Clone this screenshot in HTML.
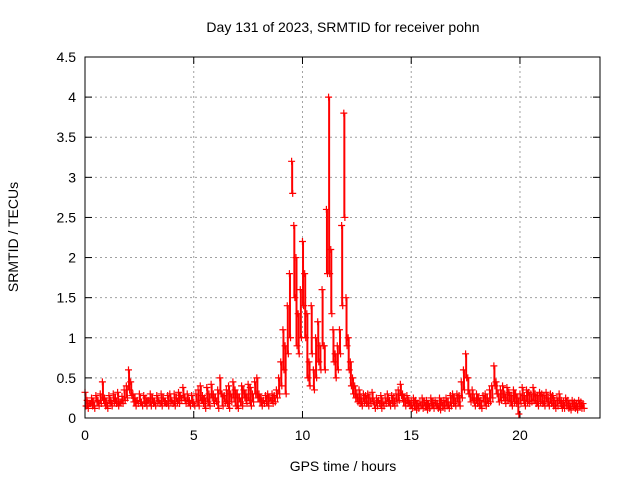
<!DOCTYPE html>
<html><head><meta charset="utf-8"><style>
body{margin:0;background:#fff;width:640px;height:480px;overflow:hidden}
svg text{font-family:"Liberation Sans",sans-serif;font-size:14px;fill:#000}
</style></head><body>
<svg id="chart" width="640" height="480" xmlns="http://www.w3.org/2000/svg">
<rect width="640" height="480" fill="#fff"/>
<text x="343" y="32" text-anchor="middle">Day 131 of 2023, SRMTID for receiver pohn</text>
<text x="343" y="471" text-anchor="middle">GPS time / hours</text>
<text transform="translate(18,237) rotate(-90)" text-anchor="middle">SRMTID / TECUs</text>
<g id="grid"></g>
<g id="marks"></g>
<rect x="85" y="57" width="515" height="361" fill="none" stroke="#000" stroke-width="1"/>
</svg>
<script>
const xTicks=[0,5,10,15,20];
const yTicks=[0,0.5,1,1.5,2,2.5,3,3.5,4,4.5];
const yTickLabels=["0","0.5","1","1.5","2","2.5","3","3.5","4","4.5"];
const startHour=0, stepHour=0.1;
const srmtidA=[.32,.22,.18,.25,.2,.28,.22,.3,.45,.25,
.2,.28,.22,.3,.25,.32,.2,.27,.35,.4,
.6,.45,.3,.25,.22,.3,.2,.28,.25,.22,
.3,.25,.2,.28,.22,.3,.25,.2,.28,.3,
.22,.3,.25,.32,.28,.38,.25,.3,.22,.28,
.2,.3,.35,.4,.28,.25,.38,.3,.42,.3,
.25,.35,.5,.3,.28,.35,.4,.3,.45,.35,
.3,.25,.4,.35,.3,.42,.38,.3,.45,.5,
.3,.25,.22,.28,.3,.25,.3,.28,.35,.5,
.7,1.1,.9,1.4,1.8,3.2,2.4,2.0,1.3,1.6,
2.2,1.8,1.3,.7,1.4,.6,1.0,1.2,.9,1.6,
.9,2.6,4.0,2.1,1.1,.8,.9,1.1,2.4,3.8,
1.5,1.0,.7,.5,.4,.3,.35,.25,.3,.28,
.3,.25,.32,.2,.25,.22,.28,.2,.25,.3,
.22,.28,.25,.3,.35,.42,.3,.25,.28,.22,
.2,.25,.22,.18,.2,.25,.2,.22,.18,.25,
.2,.22,.18,.25,.2,.22,.25,.2,.28,.3,
.25,.3,.28,.45,.6,.8,.5,.3,.35,.25,
.3,.25,.22,.28,.3,.25,.35,.4,.65,.45,
.3,.35,.4,.3,.38,.32,.28,.35,.3,.25,
.3,.38,.28,.35,.32,.3,.38,.3,.28,.32,
.3,.28,.32,.25,.3,.28,.22,.25,.3,.22,
.2,.25,.22,.18,.22,.2,.18,.22,.2,.18];
const srmtidB=[.15,.12,.18,.15,.12,.2,.15,.18,.22,.15,
.12,.18,.15,.2,.18,.15,.2,.18,.22,.25,
.35,.28,.2,.15,.18,.2,.15,.18,.15,.2,
.15,.18,.15,.2,.18,.15,.2,.18,.15,.2,
.18,.15,.2,.18,.22,.25,.18,.2,.15,.18,
.15,.2,.15,.22,.18,.12,.2,.15,.25,.18,
.2,.12,.3,.15,.2,.18,.12,.2,.25,.15,
.12,.2,.15,.25,.18,.22,.15,.2,.3,.25,
.2,.15,.18,.2,.15,.22,.18,.2,.25,.3,
.4,.6,.3,.8,1.0,2.8,1.5,.9,.8,1.0,
1.4,1.0,.5,.4,.8,.35,.5,.7,.6,.9,
.6,1.8,1.8,1.3,.7,.5,.6,.8,1.4,2.5,
.9,.6,.4,.3,.25,.2,.18,.15,.2,.18,
.15,.18,.2,.12,.15,.18,.12,.15,.18,.2,
.15,.18,.15,.2,.22,.28,.2,.15,.18,.15,
.12,.15,.1,.12,.15,.12,.15,.1,.12,.15,
.12,.15,.12,.1,.15,.12,.15,.12,.15,.18,
.15,.2,.15,.25,.35,.5,.3,.2,.22,.15,
.18,.15,.12,.2,.15,.18,.2,.25,.4,.3,
.2,.22,.25,.18,.22,.2,.15,.2,.18,.05,
.18,.22,.15,.2,.18,.2,.22,.18,.15,.2,
.18,.15,.2,.15,.18,.15,.12,.15,.18,.12,
.12,.15,.12,.1,.14,.12,.1,.14,.12,.12];
const NS='http://www.w3.org/2000/svg';
const X0=85,X1=600,Y0=418,Y1=57;
function xs(h){return X0+(h-0)/(23.68-0)*(X1-X0);}
function ys(v){return Y0-(v-0)/(4.5-0)*(Y0-Y1);}
function mk(tag,a,parent){const e=document.createElementNS(NS,tag);for(const k in a)e.setAttribute(k,a[k]);parent.appendChild(e);return e;}
const grid=document.getElementById('grid'),marks=document.getElementById('marks'),svg=document.getElementById('chart');
yTicks.forEach((v,i)=>{const y=ys(v);
 if(i>0&&i<yTicks.length-1){const g=mk('line',{x1:X0,x2:X1,y1:y,y2:y,stroke:'#a0a0a0','stroke-dasharray':'2,3'},grid);
 }
 const t1=mk('line',{x1:X0,x2:X0+7,y1:y,y2:y,stroke:'#000'},grid);
 const t2=mk('line',{x1:X1-7,x2:X1,y1:y,y2:y,stroke:'#000'},grid);
 const l=mk('text',{x:X0-9,y:y+5,'text-anchor':'end'},svg);l.textContent=yTickLabels[i];
 });
xTicks.forEach((h,i)=>{const x=xs(h);
 if(i>0){const g=mk('line',{x1:x,x2:x,y1:Y0,y2:Y1,stroke:'#a0a0a0','stroke-dasharray':'2,3'},grid);
 }
 const t1=mk('line',{x1:x,x2:x,y1:Y0,y2:Y0-7,stroke:'#000'},grid);
 const t2=mk('line',{x1:x,x2:x,y1:Y1,y2:Y1+7,stroke:'#000'},grid);
 const l=mk('text',{x:x,y:Y0+22,'text-anchor':'middle'},svg);l.textContent=String(h);
 });
function plus(x,y){const p=mk('path',{d:`M${x-3.5},${y}h7M${x},${y-3.5}v7`,stroke:'#f00','stroke-width':1.2,fill:'none'},marks);
 }
srmtidA.forEach((a,i)=>{const b=srmtidB[i];const h=startHour+i*stepHour;
 const band=mk('line',{x1:xs(h+0.025),x2:xs(h+0.025),y1:ys(a),y2:ys(b),stroke:'#f00','stroke-width':2},marks);
 });
srmtidA.forEach((a,i)=>{const h=startHour+i*stepHour;plus(xs(h),ys(a));});
srmtidB.forEach((b,i)=>{const h=startHour+i*stepHour+0.05;plus(xs(h),ys(b));});
</script>
</body></html>
